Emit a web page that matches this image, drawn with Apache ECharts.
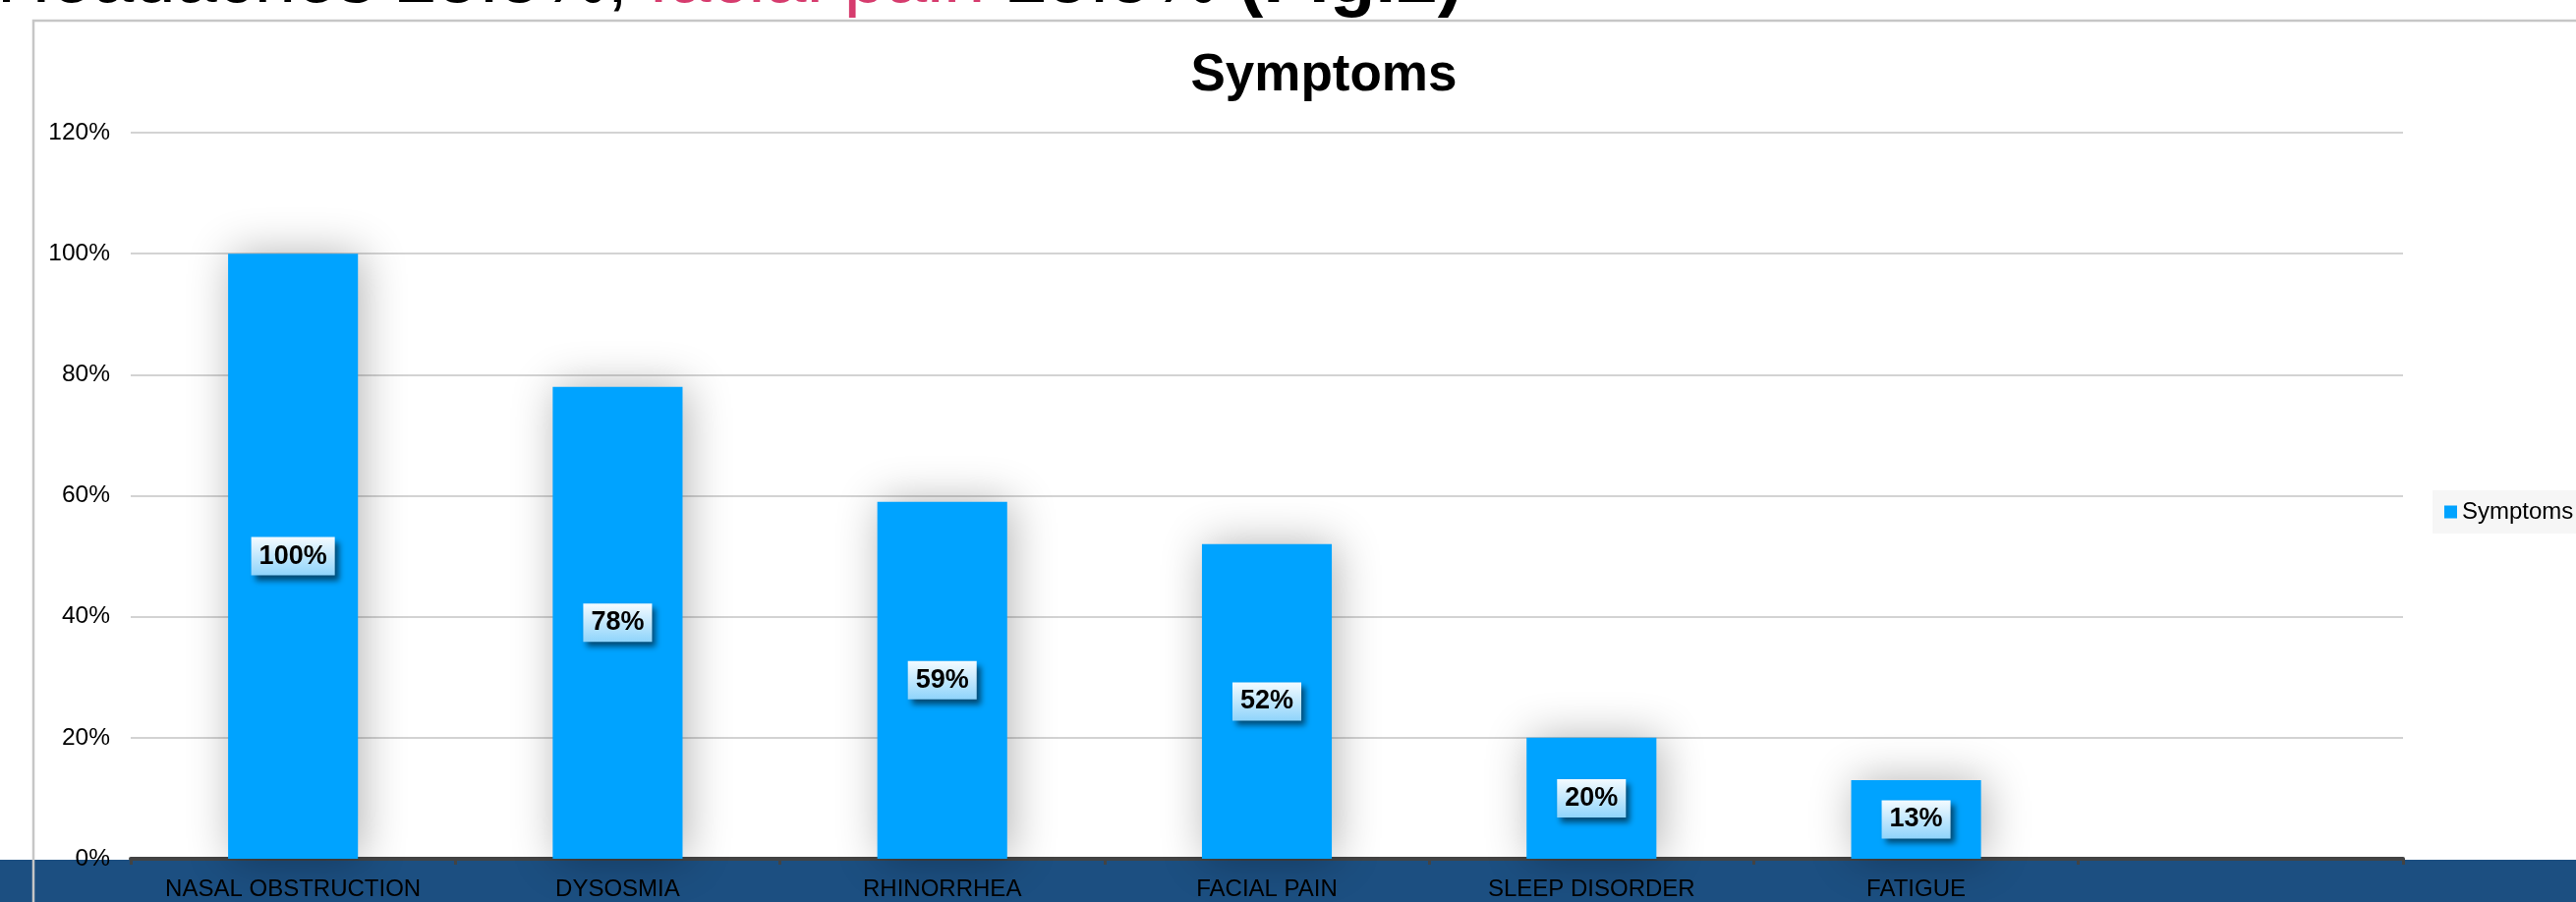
<!DOCTYPE html>
<html>
<head>
<meta charset="utf-8">
<script src="https://cdn.jsdelivr.net/npm/echarts@6/dist/echarts.min.js"></script>
<style>
  html, body { margin: 0; padding: 0; background: #fff; }
  #chart { width: 2621px; height: 918px; }
</style>
</head>
<body>
<div id="chart"></div>
<script>
const categories = ['NASAL OBSTRUCTION', 'DYSOSMIA', 'RHINORRHEA', 'FACIAL PAIN', 'SLEEP DISORDER', 'FATIGUE', '']
const symptoms = [100, 78, 59, 52, 20, 13]
const yTicks = { min: 0, max: 120, interval: 20 }

let myChart = echarts.init(document.getElementById('chart'))

let option = {
  backgroundColor: '#ffffff',
  animation: false,
  title: {
    text: 'Symptoms',
    left: 1347,
    top: 51,
    padding: 0,
    textAlign: 'center',
    textStyle: { fontFamily: 'Liberation Sans', fontSize: 53, fontWeight: 'bold', color: '#000' }
  },
  legend: {
    data: ['Symptoms'],
    left: 2475,
    top: 499,
    icon: 'rect',
    itemWidth: 13,
    itemHeight: 13,
    padding: [9, 8, 9, 12],
    backgroundColor: '#f6f6f6',
    textStyle: { fontFamily: 'Liberation Sans', fontSize: 24, color: '#000', lineHeight: 26 }
  },
  grid: { left: 133, right: 176, top: 135, bottom: 44, containLabel: false },
  xAxis: {
    type: 'category',
    data: categories,
    axisLine: { lineStyle: { color: '#434343', width: 4 } },
    axisTick: { show: true, length: 6, lineStyle: { color: '#434343', width: 3 } },
    axisLabel: { interval: 0, margin: 19, fontFamily: 'Liberation Sans', fontSize: 24, color: '#000' }
  },
  yAxis: {
    type: 'value',
    min: yTicks.min,
    max: yTicks.max,
    interval: yTicks.interval,
    axisLine: { show: false },
    axisTick: { show: false },
    axisLabel: { formatter: '{value}%', margin: 21, fontFamily: 'Liberation Sans', fontSize: 24.5, color: '#000' },
    splitLine: { lineStyle: { color: '#c4c4c4', width: 1.5 } }
  },
  series: [
    {
      name: 'Symptoms',
      type: 'bar',
      data: symptoms,
      barWidth: '40%',
      itemStyle: {
        color: '#00A3FF',
        shadowBlur: 45,
        shadowColor: 'rgba(0,0,0,0.3)',
        shadowOffsetX: 4
      },
      label: {
        show: true,
        position: 'inside',
        formatter: '{c}%',
        fontFamily: 'Liberation Sans',
        fontSize: 27,
        fontWeight: 'bold',
        color: '#000',
        padding: [7, 8, 5, 8],
        backgroundColor: new echarts.graphic.LinearGradient(0, 0, 0, 1, [
          { offset: 0, color: '#f4fbff' },
          { offset: 1, color: '#8fd4fb' }
        ]),
        shadowColor: 'rgba(0,0,0,0.55)',
        shadowBlur: 6,
        shadowOffsetX: 4,
        shadowOffsetY: 5
      }
    }
  ],
  graphic: [
    {
      type: 'rect',
      z: -10,
      silent: true,
      shape: { x: 0, y: 875, width: 2621, height: 43 },
      style: { fill: '#1c4f81' }
    },
    {
      type: 'polyline',
      z: -5,
      silent: true,
      shape: { points: [[34, 918], [34, 21], [2621, 21]] },
      style: { stroke: '#c6c6c6', lineWidth: 2.5, fill: null }
    },
    {
      type: 'text',
      z: 10,
      silent: true,
      x: 1488,
      y: 19,
      style: {
        text: '{n|Headaches 25.5%, }{p|facial pain}{n| 25.5% }{b|(Fig.2)}',
        align: 'right',
        verticalAlign: 'bottom',
        rich: {
          n: { fontFamily: 'Liberation Sans', fontSize: 76, fill: '#000' },
          p: { fontFamily: 'Liberation Sans', fontSize: 76, fill: '#d63c6e' },
          b: { fontFamily: 'Liberation Sans', fontSize: 76, fontWeight: 'bold', fill: '#000' }
        }
      }
    }
  ]
};

myChart.setOption(option);
</script>
</body>
</html>
